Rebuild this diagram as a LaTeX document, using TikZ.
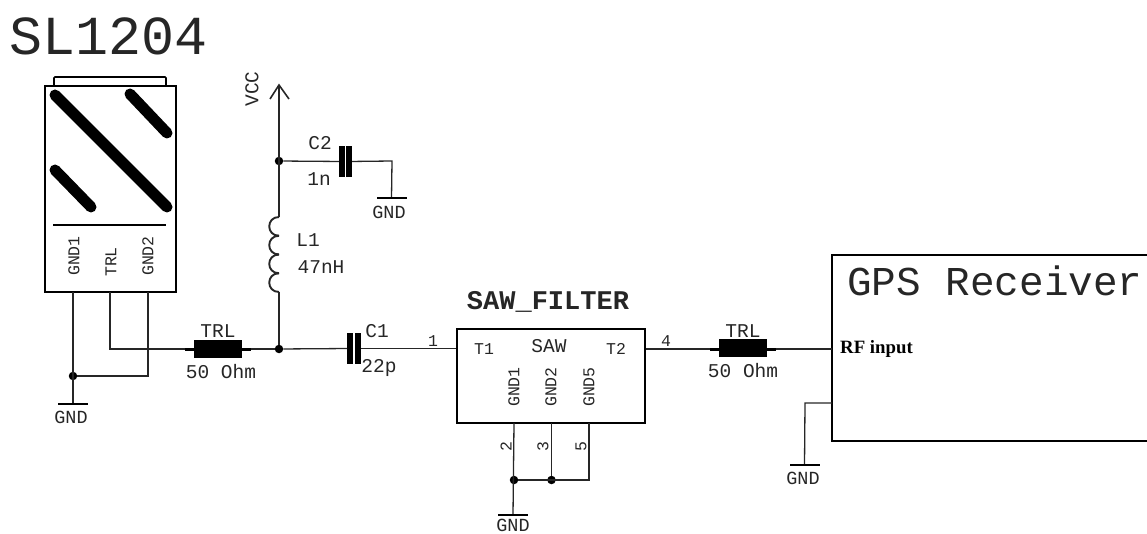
\documentclass[tikz,border=0pt]{standalone}
\usepackage{fontspec}
\newfontfamily\eaglefont{Liberation Mono}
\newfontfamily\rffont{Liberation Serif}
\tikzset{
	wire/.style={line width=1.3pt, black!85},
	box/.style={draw=black, line width=2pt, rectangle, inner sep=0pt},
	dot/.style={circle, fill=black, inner sep=0pt, minimum size=8.5pt},
	plate/.style={rectangle, fill=black, inner sep=0pt, minimum width=5.6pt, minimum height=31pt},
	trlbody/.style={rectangle, fill=black, inner sep=0pt, minimum width=48pt, minimum height=18pt},
	trllead/.style={rectangle, fill=black, inner sep=0pt, minimum width=66pt, minimum height=3pt},
	gndbar/.style={rectangle, fill=black, inner sep=0pt, minimum width=30pt, minimum height=2pt},
	strip/.style={line width=11pt, line cap=round},
	lbl/.style={inner sep=0pt, text=black!85, font=\eaglefont\fontsize{16.5}{18}\selectfont},
	lblmid/.style={lbl, font=\eaglefont\fontsize{19.5}{22}\selectfont},
}
\begin{document}
\begin{tikzpicture}[x=1pt, y=-1pt]
	\useasboundingbox (0,0) rectangle (1147,534);
	% module and its strips
	\node[box, minimum width=131pt, minimum height=206pt] (module) at (110.5,189) {};
	\draw[line width=1.6pt, rounded corners=1pt] (54,86) -- (54,77) -- (166,77) -- (166,86);
	\draw[strip] (55,95) -- (167,207);
	\draw[strip] (130,94) -- (167,133);
	\draw[strip] (55,170) -- (91,207);
	\draw[line width=2pt] (53,225) -- (166,225);
	% boxes
	\node[box, minimum width=188pt, minimum height=94pt] (saw) at (551,376) {};
	\draw[line width=2pt] (1147,255) -- (832,255) -- (832,441) -- (1147,441);
	% free points of the wires
	\def\points {vcctop/279/85, gnd1pin/73/292, trlpin/110/292, gnd2pin/148/292, trlcorner/110/349, c2end/392/161,
		l1top/279/217, l1bot/279/292, pin2/514/423, pin3/551.5/423, pin5/589/423, pin5end/589/480,
		rfin/832/349, rxgnd/832/403, rxcorner/805/403, vcctipl/270/99, vcctipr/289/99};
	\foreach \name\x\y in \points{
		\coordinate (\name) at (\x,\y);
	}
	% junctions
	\def\dots {jmod/73/376, jvcc/279/161, jmain/279/349, jsawa/514/480, jsawb/551.5/480};
	\foreach \name\x\y in \dots{
		\node[dot] (\name) at (\x,\y) {};
	}
	% ground symbols
	\def\grounds {gndmod/73/404/71/417, gndc/391.5/198/389/212, gndsaw/513/515/513/525, gndrx/804.5/465/803/478};
	\foreach \name\x\y\tx\ty in \grounds{
		\node[gndbar] (\name) at (\x,\y) {};
		\node[lblmid, font=\eaglefont\fontsize{18.5}{20}\selectfont] (\name txt) at (\tx,\ty) {GND};
	}
	% capacitors and lines
	\node[plate] (c2a) at (341.8,161.5) {};
	\node[plate] (c2b) at (349.2,161.5) {};
	\node[plate] (c1a) at (350,348.5) {};
	\node[plate] (c1b) at (358,348.5) {};
	\node[trllead] (trllead) at (218,349) {};
	\node[trlbody] (trlbody) at (218,349) {};
	\node[trllead] (trlleadb) at (743,349) {};
	\node[trlbody] (trlbodyb) at (743,348) {};
	% wires on the left
	\draw[wire] (gnd1pin) -- (gndmod);
	\draw[wire] (gnd2pin) |- (jmod);
	\draw[wire] (trlpin) -- (trlcorner) -- (trllead.west);
	\draw[wire] (trllead.east) -- (jmain);
	\draw[wire] (jmain) -- (l1bot);
	\draw[wire] (l1top) -- (vcctop);
	\draw[wire, line width=1.6pt] (vcctipl) -- (vcctop) -- (vcctipr);
	\draw[wire] (jvcc) -- (c2a);
	\draw[wire] (c2b) -- (c2end) -- (gndc);
	\draw[wire] (jmain) -- (c1a);
	\draw[wire] (c1b) -- (saw.west |- c1b);
	% wires on the right
	\draw[wire] (saw.east |- trlleadb) -- (trlleadb.west);
	\draw[wire] (trlleadb.east) -- (rfin);
	\draw[wire] (rxgnd) -- (rxcorner) -- (gndrx);
	\draw[wire] (pin2) -- (gndsaw);
	\draw[wire] (pin3) -- (jsawb);
	\draw[wire] (pin5) -- (pin5end) -- (jsawa);
	% coil
	\foreach \yy in {0,1,2,3}{
		\draw[wire, line width=1.9pt] (279,217+18.75*\yy) .. controls (266,217+18.75*\yy) and (266,235.75+18.75*\yy) .. (279,235.75+18.75*\yy);
	}
	% labels
	\def\labels {tc2/320/143/C2, tc2v/319/179/1n, tl1/308/240/L1, tl1v/321/267/47nH, tc1/377/331/C1, tc1v/379/368/22p,
		ttrl/218/331/TRL, ttrlv/221/372/50 Ohm, ttrlb/743/331/TRL, ttrlbv/743/371/50 Ohm, tsaw/549/346/SAW};
	\foreach \name\x\y\txt in \labels{
		\node[lblmid] (\name) at (\x,\y) {\txt};
	}
	\def\pinlabels {tone/433/341/1, tfour/666/341/4, tt1/484/349/T1, tt2/616/349/T2};
	\foreach \name\x\y\txt in \pinlabels{
		\node[lbl] (\name) at (\x,\y) {\txt};
	}
	% labels read from below
	\def\uplabels {tgnd1/74/256/GND1, ttrlup/111/262/TRL, tgnd2/148/256/GND2, tsawa/514/387/GND1,
		tsawb/551/387/GND2, tsawc/589/387/GND5, ttwo/506/447/2, tthree/543/447/3, tfive/581/447/5};
	\foreach \name\x\y\txt in \uplabels{
		\node[lbl, rotate=90] (\name) at (\x,\y) {\txt};
	}
	\node[lblmid, rotate=90] (tvcc) at (252,89) {VCC};
	% big titles
	\node[lbl, font=\eaglefont\fontsize{55}{60}\selectfont] (title) at (109,36) {SL1204};
	\node[lbl, font=\eaglefont\bfseries\fontsize{27}{30}\selectfont] (sawname) at (548,302) {SAW\_FILTER};
	\node[lbl, font=\eaglefont\fontsize{41}{46}\selectfont] (gpsname) at (995,281) {GPS Receiver};
	\node[anchor=west, inner sep=0pt, font=\rffont\bfseries\fontsize{18.8}{20}\selectfont] (rfname) at (840,349) {RF input};
\end{tikzpicture}
\end{document}
